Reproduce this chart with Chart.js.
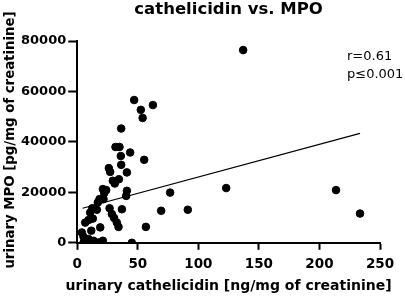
<!DOCTYPE html>
<html>
<head>
<meta charset="utf-8">
<script src="https://cdn.jsdelivr.net/npm/chart.js@4"></script>
<style>
  html, body { margin: 0; padding: 0; background: #fff; }
</style>
</head>
<body>
<canvas id="c" width="405" height="298"></canvas>
<script>
// cathelicidin (x) vs MPO (y)
const cathelicidin = [47, 52.5, 62.5, 54, 36.3, 31.6, 34.9, 43.7, 36, 55.3,
  36.3, 26.1, 27.2, 41, 34.4, 29.4, 31, 23.9, 21.2, 22.3,
  41, 40.4, 18.4, 21.7, 17, 26.7, 12.4, 16.2, 10.7, 36.9,
  28.6, 30.5, 32.7, 34.1, 12.9, 9.3, 6.6, 19, 56.7, 11.6,
  3.8, 5.2, 9.3, 13.5, 17.6, 21.2, 5.2, 17.6, 45.1, 137,
  123, 76.7, 213.7, 69.3, 91.3, 233.5];
const mpo = [56600, 52700, 54600, 49500, 45300, 38000, 38000, 35800, 34400, 32900,
  30900, 29600, 28100, 27900, 25200, 24600, 23500, 20900, 21300, 19700,
  20600, 18600, 17300, 17300, 16000, 13700, 13700, 13100, 12000, 13300,
  11400, 9800, 8000, 6300, 9600, 9000, 8000, 6100, 6300, 4800,
  4100, 2400, 1500, 800, 100, 800, 0, 0, 0, 76400,
  21700, 19900, 20900, 12700, 13100, 11600];

// fitted line end points
const fitX = [4.4, 233.5];
const fitY = [13700, 43400];

const xTicks = [0, 50, 100, 150, 200, 250];
const yTicks = [0, 20000, 40000, 60000, 80000];

const titleText = 'cathelicidin vs. MPO';
const xLabel = 'urinary cathelicidin [ng/mg of creatinine]';
const yLabel = 'urinary MPO [pg/mg of creatinine]';
const statLines = ['r=0.61', 'p\u22640.001'];

const points = cathelicidin.map((x, i) => ({ x: x, y: mpo[i] }));
const fitLine = fitX.map((x, i) => ({ x: x, y: fitY[i] }));

const FONT = "'DejaVu Sans', Verdana, sans-serif";

// chart title, axis titles and r / p text (axis titles drawn here so they aren't squeezed)
const textPlugin = {
  id: 'texts',
  afterDraw(chart) {
    const ctx = chart.ctx;
    const a = chart.chartArea;
    const cx = (a.left + a.right) / 2;
    ctx.save();
    ctx.fillStyle = '#000';
    ctx.textAlign = 'center';
    ctx.textBaseline = 'middle';
    ctx.font = 'bold 16.5px ' + FONT;
    ctx.fillText(titleText, cx, 10);
    ctx.font = 'bold 14px ' + FONT;
    ctx.fillText(xLabel, cx, 286);
    ctx.save();
    ctx.translate(11, 140);
    ctx.rotate(-Math.PI / 2);
    ctx.font = 'bold 13.3px ' + FONT;
    ctx.fillText(yLabel, 0, 0);
    ctx.restore();
    ctx.textAlign = 'left';
    ctx.font = '13px ' + FONT;
    ctx.fillText(statLines[0], 347, 57);
    ctx.fillText(statLines[1], 347, 75);
    ctx.restore();
  }
};

function axis(ticks, max, tickSize, tickLen, pad) {
  return {
    type: 'linear',
    min: 0,
    max: max,
    afterBuildTicks: s => { s.ticks = ticks.map(v => ({ value: v })); },
    border: { display: true, color: '#000', width: 2 },
    grid: {
      drawOnChartArea: false,
      drawTicks: true,
      tickLength: tickLen,
      tickWidth: 2,
      tickColor: '#000'
    },
    ticks: {
      color: '#000',
      padding: pad,
      font: { family: FONT, size: tickSize, weight: 'bold' },
      callback: v => String(v)
    },
    title: { display: false }
  };
}

new Chart(document.getElementById('c').getContext('2d'), {
  type: 'scatter',
  data: {
    datasets: [
      {
        label: 'samples',
        data: points,
        backgroundColor: '#000',
        borderColor: '#000',
        pointRadius: 3.8,
        pointHoverRadius: 3.8
      },
      {
        type: 'line',
        label: 'fit',
        data: fitLine,
        borderColor: '#000',
        borderWidth: 1.2,
        pointRadius: 0,
        fill: false
      }
    ]
  },
  options: {
    responsive: false,
    animation: false,
    layout: { padding: { top: 41, right: 25, left: 19, bottom: 18 } },
    plugins: {
      legend: { display: false },
      tooltip: { enabled: false },
      title: { display: false }
    },
    scales: {
      x: axis(xTicks, 250, 13.5, 7, 7),
      y: axis(yTicks, 80000, 13, 9, 2)
    }
  },
  plugins: [textPlugin]
});
</script>
</body>
</html>
